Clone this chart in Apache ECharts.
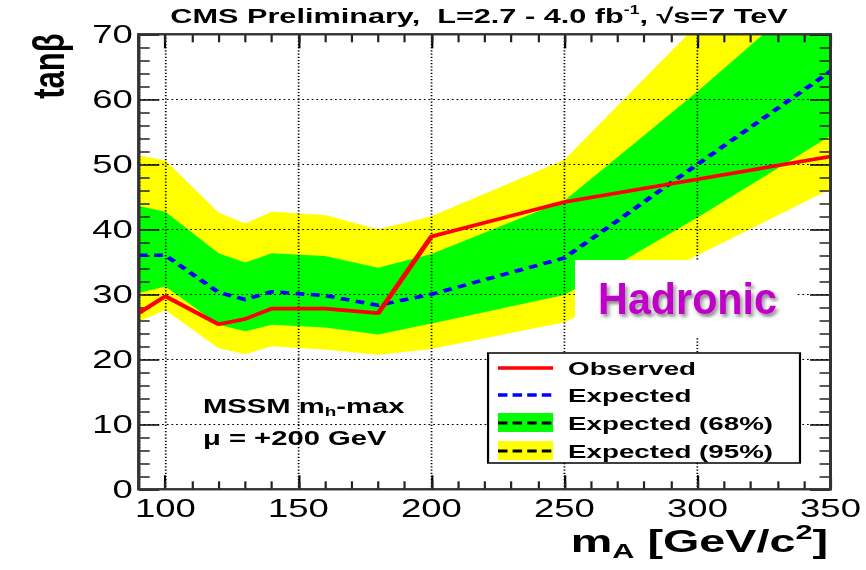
<!DOCTYPE html>
<html>
<head>
<meta charset="utf-8">
<script src="https://cdn.jsdelivr.net/npm/echarts@6/dist/echarts.min.js"></script>
<style>
  html, body { margin: 0; padding: 0; background: #fff; overflow: hidden; }
  /* the plot is laid out narrow and widened horizontally, like the original figure */
  #chart { width: 593px; height: 570px; transform: scaleX(1.46037); transform-origin: 0 0; }
</style>
</head>
<body>
<div id="chart"></div>
<script>
// CP-odd Higgs mass points, GeV/c^2
const massPoints = [90, 100, 120, 130, 140, 160, 180, 200, 250, 300, 350];
// 95% CL upper limits on tan(beta)
const observed   = [27.1, 29.7, 25.4, 26.2, 27.8, 27.8, 27.1, 38.9, 44.2, 47.7, 51.2];
const expected   = [36.0, 36.0, 30.3, 29.2, 30.4, 29.8, 28.3, 30.0, 35.6, 50.0, 64.3];
const band68Low  = [30.2, 31.2, 25.3, 24.3, 25.3, 24.9, 23.8, 25.5, 29.9, 41.8, 54.4];
const band68High = [43.6, 42.7, 36.3, 34.9, 36.3, 35.9, 34.1, 36.2, 44.4, 61.2, 79.0];
const band95Low  = [25.8, 27.6, 21.7, 20.8, 22.0, 21.5, 20.7, 21.6, 25.7, 36.0, 46.2];
const band95High = [51.4, 50.6, 42.6, 40.9, 42.7, 42.2, 40.0, 42.0, 50.7, 71.5, 91.0];

const FONT = "'Liberation Sans', Arial, Helvetica, sans-serif";
const pairs = ys => massPoints.map((m, i) => [m, ys[i]]);

// closed outline of a band: upper edge left to right, lower edge right to left
function bandRenderer(lo, hi, color) {
  return function (params, api) {
    const upper = massPoints.map((m, i) => api.coord([m, hi[i]]));
    const lower = massPoints.map((m, i) => api.coord([m, lo[i]])).reverse();
    return { type: 'polygon', shape: { points: upper.concat(lower) }, style: { fill: color } };
  };
}

const chart = echarts.init(document.getElementById('chart'), null, { renderer: 'svg' });

const xRange = { type: 'value', gridIndex: 0, min: 90, max: 350, axisLine: { show: false } };
const yRange = { type: 'value', gridIndex: 0, min: 0, max: 70, interval: 10, axisLine: { show: false } };
const dotted = { color: '#000', width: 1.2, type: [1.2, 2] };

chart.setOption({
  animation: false,
  backgroundColor: '#fff',
  grid: { left: 95, right: 24.3, top: 34.3, bottom: 80.7, show: true, backgroundColor: 'rgba(0,0,0,0)',
          borderColor: '#333', borderWidth: 2 },
  xAxis: [
    // major divisions every 50 (nice ticks 100 ... 350)
    Object.assign({}, xRange, {
      position: 'bottom', splitNumber: 5,
      axisTick: { show: true, inside: true, length: 14, lineStyle: { color: '#000', width: 1.5 } },
      axisLabel: { show: true, showMinLabel: false, margin: 7, fontSize: 25, color: '#000', fontFamily: FONT,
                   formatter: v => (v % 50 === 0 ? String(v) : '') },
      splitLine: { show: true, lineStyle: dotted }
    }),
    // minor divisions every 10
    Object.assign({}, xRange, {
      position: 'bottom', interval: 10,
      axisTick: { show: true, inside: true, length: 8, lineStyle: { color: '#222', width: 1.5 } },
      axisLabel: { show: false }, splitLine: { show: false }
    }),
    Object.assign({}, xRange, {
      position: 'top', splitNumber: 5,
      axisTick: { show: true, inside: true, length: 14, lineStyle: { color: '#000', width: 1.5 } },
      axisLabel: { show: false }, splitLine: { show: false }
    }),
    Object.assign({}, xRange, {
      position: 'top', interval: 10,
      axisTick: { show: true, inside: true, length: 8, lineStyle: { color: '#222', width: 1.5 } },
      axisLabel: { show: false }, splitLine: { show: false }
    })
  ],
  yAxis: [
    Object.assign({}, yRange, {
      position: 'left',
      axisTick: { show: true, inside: true, length: 14, lineStyle: { color: '#000', width: 1.5 } },
      minorTick: { show: true, splitNumber: 5, length: 7.5, lineStyle: { color: '#222', width: 1.5 } },
      axisLabel: { show: true, margin: 4, fontSize: 25, color: '#000', fontFamily: FONT },
      splitLine: { show: true, lineStyle: dotted }
    }),
    Object.assign({}, yRange, {
      position: 'right',
      axisTick: { show: true, inside: true, length: 14, lineStyle: { color: '#000', width: 1.5 } },
      minorTick: { show: true, splitNumber: 5, length: 7.5, lineStyle: { color: '#222', width: 1.5 } },
      axisLabel: { show: false }, splitLine: { show: false }
    })
  ],
  series: [
    { type: 'custom', name: 'Expected (95%)', coordinateSystem: 'cartesian2d', xAxisIndex: 0, yAxisIndex: 0,
      data: [[massPoints[0], band95Low[0]]], clip: true, silent: true, z: -2,
      renderItem: bandRenderer(band95Low, band95High, '#FFFF00') },
    { type: 'custom', name: 'Expected (68%)', coordinateSystem: 'cartesian2d', xAxisIndex: 0, yAxisIndex: 0,
      data: [[massPoints[0], band68Low[0]]], clip: true, silent: true, z: -1,
      renderItem: bandRenderer(band68Low, band68High, '#00FF00') },
    { type: 'line', name: 'Expected', xAxisIndex: 0, yAxisIndex: 0, data: pairs(expected), symbol: 'none',
      lineStyle: { color: '#0000FF', width: 3.6, type: [6, 4.5] }, z: 6 },
    { type: 'line', name: 'Observed', xAxisIndex: 0, yAxisIndex: 0, data: pairs(observed), symbol: 'none',
      lineStyle: { color: '#FF0000', width: 3.6 }, z: 7 }
  ],
  graphic: [
    // plot frame
    { type: 'rect', z: 12, shape: { x: 95, y: 34.3, width: 473.7, height: 455 },
      style: { fill: 'rgba(0,0,0,0)', stroke: '#333', lineWidth: 2 } },
    // header
    { type: 'text', x: 328, y: 16, z: 20,
      style: {
        text: '{t|CMS Preliminary,  L=2.7 - 4.0 fb}{s|-1}{t|, √s=7 TeV}',
        align: 'center', verticalAlign: 'middle',
        rich: {
          t: { fontSize: 21, fontWeight: 'bold', fontFamily: FONT, fill: '#000', lineHeight: 24 },
          s: { fontSize: 12, fontWeight: 'bold', fontFamily: FONT, fill: '#000', lineHeight: 14, verticalAlign: 'top' }
        }
      } },
    // y axis title
    { type: 'text', x: 32.9, y: 66, rotation: Math.PI / 2, z: 20,
      style: { text: 'tanβ', fontSize: 31, fontWeight: 'bold', fontFamily: FONT, fill: '#000',
               align: 'center', verticalAlign: 'middle' } },
    // x axis title
    { type: 'text', x: 567, y: 541, z: 20,
      style: {
        text: '{b|m}{sub|A}{b| [GeV/c}{sup|2}{b|]}',
        align: 'right', verticalAlign: 'middle',
        rich: {
          b: { fontSize: 32, fontWeight: 'bold', fontFamily: FONT, fill: '#000', lineHeight: 40 },
          sub: { fontSize: 21, fontWeight: 'bold', fontFamily: FONT, fill: '#000', lineHeight: 21, verticalAlign: 'bottom' },
          sup: { fontSize: 21, fontWeight: 'bold', fontFamily: FONT, fill: '#000', lineHeight: 21, verticalAlign: 'top' }
        }
      } },
    // model annotation
    { type: 'text', x: 139, y: 406, z: 20,
      style: {
        text: '{b|MSSM m}{sub|h}{b|-max}',
        align: 'left', verticalAlign: 'middle',
        rich: {
          b: { fontSize: 20, fontWeight: 'bold', fontFamily: FONT, fill: '#000', lineHeight: 24 },
          sub: { fontSize: 13, fontWeight: 'bold', fontFamily: FONT, fill: '#000', lineHeight: 13, verticalAlign: 'bottom' }
        }
      } },
    { type: 'text', x: 139, y: 438, z: 20,
      style: { text: 'μ = +200 GeV', fontSize: 20, fontWeight: 'bold', fontFamily: FONT, fill: '#000',
               align: 'left', verticalAlign: 'middle' } },
    // channel tag
    { type: 'rect', z: 15, shape: { x: 393.7, y: 260, width: 152, height: 78 },
      style: { fill: '#fff' } },
    { type: 'text', x: 470.8, y: 299, scaleX: 0.643, z: 16,
      style: { text: 'Hadronic', fontSize: 44, fontWeight: 'bold', fontFamily: FONT, fill: '#C000C8',
               align: 'center', verticalAlign: 'middle',
               textShadowColor: 'rgba(0,0,0,0.45)', textShadowBlur: 3, textShadowOffsetX: 1.5, textShadowOffsetY: 3 } },
    // legend
    { type: 'group', z: 15, children: [
      { type: 'rect', z: 15, shape: { x: 334.2, y: 353, width: 213.6, height: 110 },
        style: { fill: '#fff', stroke: '#000', lineWidth: 1.5 } },
      { type: 'line', z: 16, shape: { x1: 341, y1: 368, x2: 378.7, y2: 368 },
        style: { stroke: '#FF0000', lineWidth: 3.3 } },
      { type: 'line', z: 16, shape: { x1: 341, y1: 395, x2: 378.7, y2: 395 },
        style: { stroke: '#0000FF', lineWidth: 3.3, lineDash: [6.5, 3.5] } },
      { type: 'rect', z: 16, shape: { x: 341, y: 413, width: 37.7, height: 19 },
        style: { fill: '#00FF00' } },
      { type: 'line', z: 17, shape: { x1: 341, y1: 423, x2: 378.7, y2: 423 },
        style: { stroke: '#000', lineWidth: 3, lineDash: [6.5, 3.5] } },
      { type: 'rect', z: 16, shape: { x: 341, y: 441, width: 37.7, height: 19 },
        style: { fill: '#FFFF00' } },
      { type: 'line', z: 17, shape: { x1: 341, y1: 451, x2: 378.7, y2: 451 },
        style: { stroke: '#000', lineWidth: 3, lineDash: [6.5, 3.5] } },
      { type: 'text', z: 17, x: 389, y: 368,
        style: { text: 'Observed', fontSize: 19, fontWeight: 'bold', fontFamily: FONT, fill: '#000', verticalAlign: 'middle' } },
      { type: 'text', z: 17, x: 389, y: 395,
        style: { text: 'Expected', fontSize: 19, fontWeight: 'bold', fontFamily: FONT, fill: '#000', verticalAlign: 'middle' } },
      { type: 'text', z: 17, x: 389, y: 423,
        style: { text: 'Expected (68%)', fontSize: 19, fontWeight: 'bold', fontFamily: FONT, fill: '#000', verticalAlign: 'middle' } },
      { type: 'text', z: 17, x: 389, y: 451,
        style: { text: 'Expected (95%)', fontSize: 19, fontWeight: 'bold', fontFamily: FONT, fill: '#000', verticalAlign: 'middle' } }
    ] }
  ]
});
</script>
</body>
</html>
